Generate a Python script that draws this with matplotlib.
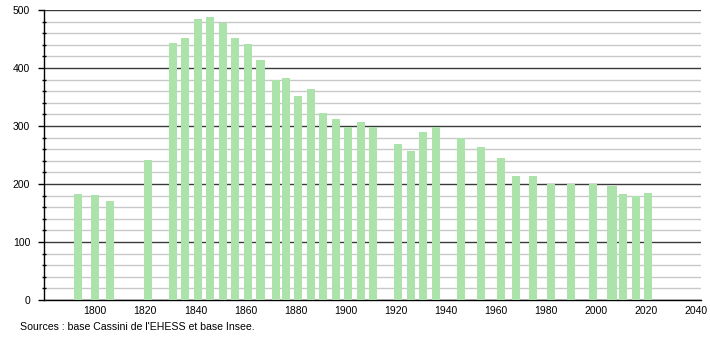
import matplotlib.pyplot as plt
from matplotlib.ticker import MultipleLocator

# années de recensement et population
annees = [1793, 1800, 1806, 1821, 1831, 1836, 1841, 1846, 1851, 1856,
          1861, 1866, 1872, 1876, 1881, 1886, 1891, 1896, 1901, 1906,
          1911, 1921, 1926, 1931, 1936, 1946, 1954, 1962, 1968, 1975,
          1982, 1990, 1999, 2006, 2007, 2011, 2016, 2021]
population = [183, 181, 171, 242, 443, 451, 484, 488, 478, 451,
              442, 414, 379, 383, 352, 364, 322, 312, 298, 307,
              298, 269, 257, 290, 298, 279, 264, 245, 214, 214,
              200, 200, 200, 197, 197, 183, 179, 184]
ticks_x = [1800, 1820, 1840, 1860, 1880, 1900, 1920, 1940, 1960, 1980, 2000, 2020, 2040]
source = "Sources : base Cassini de l'EHESS et base Insee."

plt.rcParams['font.family'] = ['Liberation Sans', 'DejaVu Sans']

fig = plt.figure(figsize=(7.1, 3.4), dpi=100)
ax = fig.add_axes([44 / 710, 40 / 340, 657 / 710, 290 / 340])

ax.bar(annees, population, width=3.2, color='#abe3ab', zorder=3)

ax.set_xlim(1779.5, 2042)
ax.set_ylim(0, 500)
ax.set_xticks(ticks_x)
ax.yaxis.set_major_locator(MultipleLocator(100))
ax.yaxis.set_minor_locator(MultipleLocator(20))
ax.grid(which='major', axis='y', color='#3a3a3a', linewidth=1, zorder=1)
ax.grid(which='minor', axis='y', color='#c8c8c8', linewidth=1, zorder=0)
ax.set_axisbelow(True)

for s in ['top', 'right']:
    ax.spines[s].set_visible(False)
ax.spines['left'].set_linewidth(1)
ax.spines['bottom'].set_linewidth(1)

ax.tick_params(axis='y', which='major', length=4, width=1, labelsize=7.5, pad=6)
ax.tick_params(axis='y', which='minor', length=2.5, width=1, direction='inout')
ax.tick_params(axis='x', length=0, labelsize=7.5, pad=4)

fig.text(20 / 710, 1 - 327 / 340, source, fontsize=7.6, va='center', ha='left')

fig.savefig('out.png', dpi=100)
